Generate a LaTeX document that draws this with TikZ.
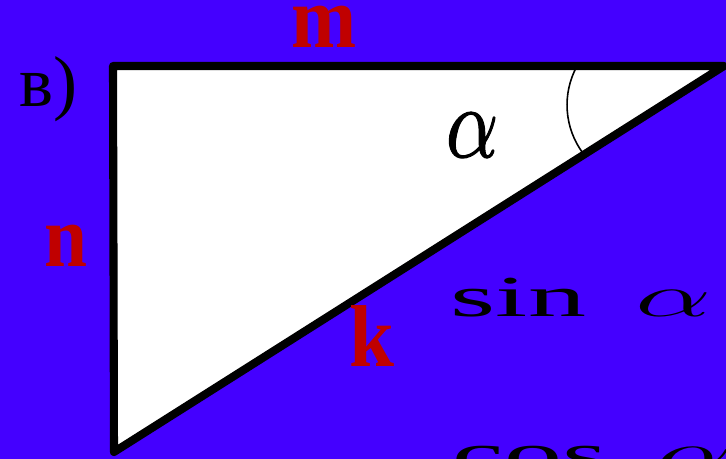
\documentclass[tikz,border=0pt]{standalone}
\usepackage{fontspec}
\setmainfont{Liberation Serif}
\newfontfamily\anglefont[FakeBold=1.2]{latinmodern-math.otf}
\usepackage{graphicx}
\definecolor{slideblue}{RGB}{68,0,255}
\definecolor{sidered}{RGB}{192,0,0}

\begin{document}
\begin{tikzpicture}[
    sidelbl/.style={text=sidered, inner sep=0pt, anchor=base, font=\fontsize{25}{30}\selectfont\bfseries},
    trigfn/.style={inner sep=0pt, anchor=base west, font=\fontsize{16.5}{20}\selectfont},
    legline/.style={line width=2.3pt, line join=round}
]
    \useasboundingbox (0,0) rectangle (7.26,4.59);
    \clip (0,0) rectangle (7.26,4.59);
    \fill[slideblue] (0,0) rectangle (7.26,4.59);

    \coordinate (A) at (1.13,3.93);
    \coordinate (B) at (7.24,3.93);
    \coordinate (C) at (1.14,0.07);
    \draw[legline, fill=white] (A) -- (B) -- (C) -- cycle;
    \draw[line width=0.45pt] (5.772,3.933) arc[start angle=151, end angle=217, radius=0.81];

    \node[inner sep=0pt, anchor=base west, font=\fontsize{20.5}{24}\selectfont] (part) at (0.19,3.52) {в)};
    \node[sidelbl] (m) at (3.24,4.11) {\scalebox{0.89}[1]{m}};
    \node[sidelbl] (n) at (0.66,1.92) {\scalebox{0.88}[1]{n}};
    \node[sidelbl] (k) at (3.72,0.92) {\scalebox{0.92}[1]{k}};
    \node[inner sep=0pt, anchor=base, font=\fontsize{29}{34}\selectfont\anglefont] (alpha) at (4.72,3.02) {\scalebox{0.8}[1]{𝛼}};

    \node[trigfn] (sin) at (4.50,1.42) {\scalebox{2}[1]{$\sin\ \alpha$}};
    \node[trigfn] (cos) at (4.52,-0.15) {\scalebox{2}[1]{$\cos\ \alpha$}};
\end{tikzpicture}
\end{document}
